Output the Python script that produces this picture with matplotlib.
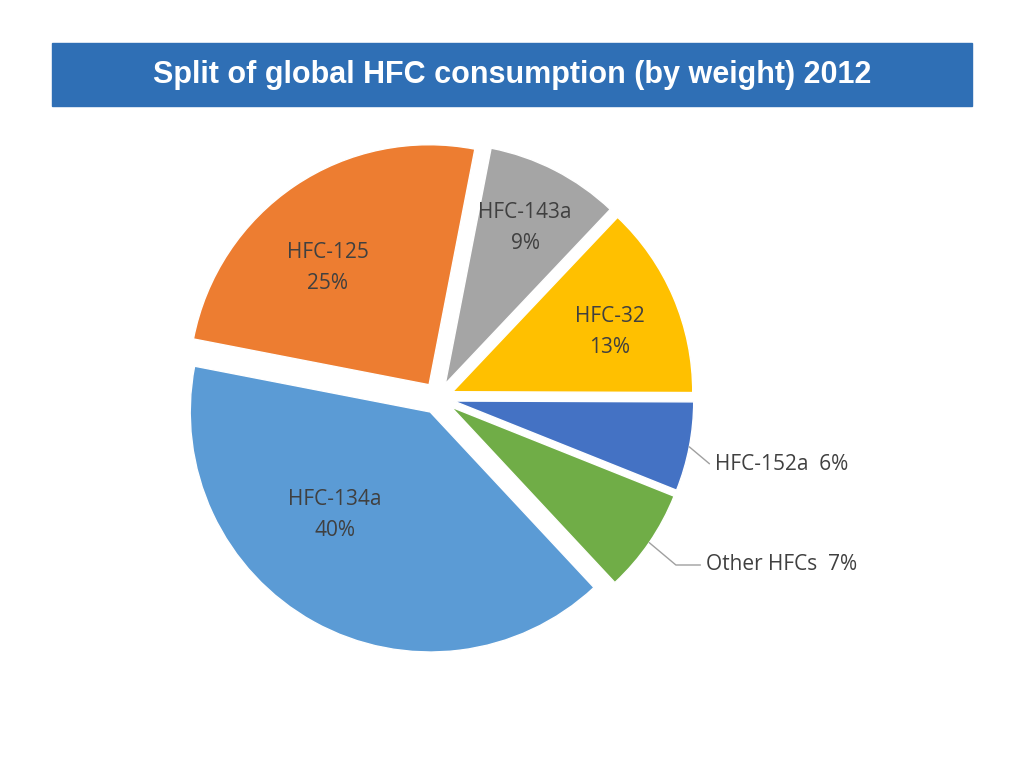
import numpy as np
import matplotlib.pyplot as plt
from matplotlib.patches import Rectangle

# data (clockwise from the top)
names = ["HFC-143a", "HFC-32", "HFC-152a", "Other HFCs", "HFC-134a", "HFC-125"]
shares = [9, 13, 6, 7, 40, 25]
colors = ["#A5A5A5", "#FFC000", "#4472C4", "#70AD47", "#5B9BD5", "#ED7D31"]
title = "Split of global HFC consumption (by weight) 2012"

W, H = 1024, 768
fig = plt.figure(figsize=(W / 100, H / 100), dpi=100)
ax = fig.add_axes([0, 0, 1, 1])

# title banner
ax.add_patch(Rectangle((52, H - 106), 920, 63, color="#2F6FB5"))
ax.text(512, H - 75, title, color="white", fontsize=22, fontweight="bold",
        family="Liberation Sans", ha="center", va="center")

cx, cy, r = 438, H - 398, 240
# explode is in data units here, not a fraction of the radius
wedges, _ = ax.pie(shares, colors=colors, startangle=79, counterclock=False,
                   center=(cx, cy), radius=r, explode=[16] * len(shares),
                   wedgeprops=dict(edgecolor="white", linewidth=1),
                   frame=True)
ax.set_xlim(0, W)
ax.set_ylim(0, H)
ax.set_aspect("equal")
ax.axis("off")

font = dict(fontsize=15, color="#404040", family="Open Sans")
inside = {"HFC-125": (328, 268), "HFC-143a": (525, 228),
          "HFC-32": (610, 332), "HFC-134a": (335, 515)}
for w, n, s in zip(wedges, names, shares):
    if n in inside:
        x, y = inside[n]
        ax.text(x, H - y, f"{n}\n{s}%", ha="center", va="center",
                linespacing=1.6, **font)

# outside labels with leader lines
outside = {"HFC-152a": ((715, 464), "HFC-152a  6%"),
           "Other HFCs": ((706, 565), "Other HFCs  7%")}
for w, n in zip(wedges, names):
    if n in outside:
        (x, y), txt = outside[n]
        ang = np.deg2rad((w.theta1 + w.theta2) / 2)
        wx, wy = w.center
        sx, sy = wx + w.r * np.cos(ang), wy + w.r * np.sin(ang)
        ax.annotate(txt, xy=(sx, sy), xytext=(x, H - y), ha="left", va="center",
                    arrowprops=dict(arrowstyle="-", color="#A0A0A0", lw=1,
                                    shrinkA=2, shrinkB=0,
                                    connectionstyle="angle,angleA=0,angleB=140,rad=0"),
                    **font)

fig.savefig("out.png", dpi=100)
